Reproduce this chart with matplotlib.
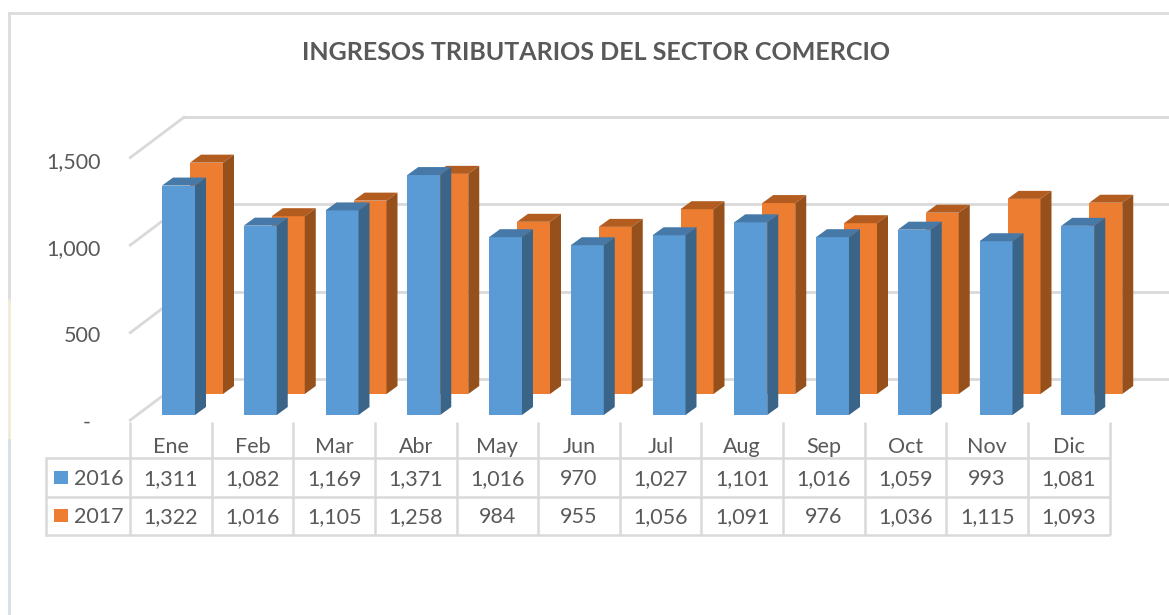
import matplotlib
matplotlib.use('Agg')
import matplotlib.pyplot as plt
from matplotlib.patches import Polygon

months = ['Ene', 'Feb', 'Mar', 'Abr', 'May', 'Jun', 'Jul', 'Aug', 'Sep', 'Oct', 'Nov', 'Dic']
years = ['2016', '2017']
v2016 = [1311, 1082, 1169, 1371, 1016, 970, 1027, 1101, 1016, 1059, 993, 1081]
v2017 = [1322, 1016, 1105, 1258, 984, 955, 1056, 1091, 976, 1036, 1115, 1093]
y_ticks = [500, 1000, 1500]
title = 'INGRESOS TRIBUTARIOS DEL SECTOR COMERCIO'

W, H = 1169, 615
plt.rcParams['font.family'] = ['Lato', 'DejaVu Sans']
GREY = '#595959'
LINE = '#d9d9d9'
FS = 15.5

# scale of the picture: pixels per category and per unit of value
px_x = 81.75
px_y = 0.175
x0_px = 130
y0_px = 415

fig = plt.figure(figsize=(W / 100, H / 100), dpi=100)

# data axes, categories on x and values on y
ax = fig.add_axes([0, 0, 1, 1])
ax.set_xlim(-x0_px / px_x, (W - x0_px) / px_x)
ax.set_ylim((y0_px - H) / px_y, y0_px / px_y)
ax.axis('off')

# overlay in pixels for the frame, table and text
ov = fig.add_axes([0, 0, 1, 1])
ov.set_xlim(0, W)
ov.set_ylim(H, 0)
ov.axis('off')
ov.patch.set_alpha(0)

# depth of a bar and shift of the back row
dx = 11 / px_x
dy = 8 / px_y
back_x = 28 / px_x
back_y = 21 / px_y
bar_w = 33 / px_x
bar_left = 32 / px_x
wall_x = 55 / px_x
wall_y = 36 / px_y


def draw_bar(i, value, base, xshift, front, top, side, z):
    left = i + bar_left + xshift
    right = left + bar_w
    ax.bar(left, value, bar_w, bottom=base, align='edge', color=front, zorder=z)
    ax.add_patch(Polygon([(left, base + value), (right, base + value),
                          (right + dx, base + value + dy), (left + dx, base + value + dy)],
                         facecolor=top, edgecolor='none', zorder=z))
    ax.add_patch(Polygon([(right, base), (right + dx, base + dy),
                          (right + dx, base + value + dy), (right, base + value)],
                         facecolor=side, edgecolor='none', zorder=z))


# walls
for t in [0] + y_ticks:
    ax.plot([-0.01, wall_x], [t - 34, t + wall_y], color=LINE, lw=2, zorder=1, solid_capstyle='butt')
    ax.plot([wall_x, (W - x0_px) / px_x], [t + wall_y, t + wall_y], color=LINE, lw=2, zorder=1)

for i in range(len(months)):
    draw_bar(i, v2017[i], back_y, back_x, '#ed7d31', '#b35c20', '#96501c', 3)
    draw_bar(i, v2016[i], 0, 0, '#5b9bd5', '#4678a8', '#3a6488', 4)

# frame of the chart
ov.plot([9, W], [13, 13], color='#dcdcdc', lw=2)
ov.plot([9, 9], [13, 300], color='#dcdcdc', lw=2)
ov.plot([9, 9], [300, 440], color='#f1ead6', lw=2)
ov.plot([9, 9], [440, H], color='#d6dee6', lw=2)

ov.text(596, 53, title, ha='center', va='center', fontsize=18, fontweight='bold', color=GREY)

# value axis labels
for t, y in zip(y_ticks, [342, 255.5, 168]):
    ov.text(101, y, f'{t:,}', ha='right', va='baseline', fontsize=FS, color=GREY)
ov.text(87, 423, '-', ha='center', va='center', fontsize=FS, color=GREY)

# data table
n = len(months)
tx = [x0_px + px_x * 0.9985 * i for i in range(n + 1)]
row_y = [458, 497, 535]
for x in tx:
    ov.plot([x, x], [422, row_y[-1]], color=LINE, lw=1.8, solid_capstyle='butt')
for y in row_y:
    ov.plot([46, tx[-1]], [y, y], color=LINE, lw=1.8, solid_capstyle='butt')
ov.plot([46, 46], [row_y[0], row_y[-1]], color=LINE, lw=1.8)

for i, m in enumerate(months):
    xc = (tx[i] + tx[i + 1]) / 2
    ov.text(xc, 453, m, ha='center', va='baseline', fontsize=FS, color=GREY)
    ov.text(xc, 485, f'{v2016[i]:,}', ha='center', va='baseline', fontsize=FS, color=GREY)
    ov.text(xc, 523, f'{v2017[i]:,}', ha='center', va='baseline', fontsize=FS, color=GREY)

for year, color, y in zip(years, ['#5b9bd5', '#ed7d31'], [485, 523]):
    ov.fill([54, 68, 68, 54], [y - 14, y - 14, y - 1, y - 1], color=color, lw=0)
    ov.text(74, y, year, ha='left', va='baseline', fontsize=FS, color=GREY)

fig.savefig('out.png', dpi=100)
